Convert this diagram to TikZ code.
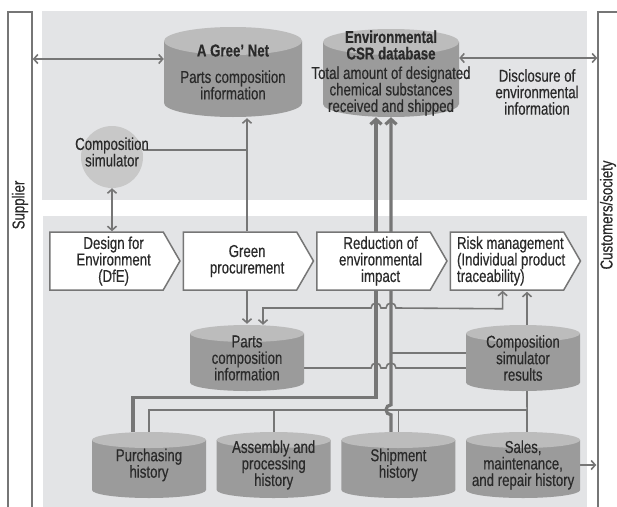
\documentclass[tikz,border=0pt]{standalone}
\usepackage{fontspec}
\setmainfont{Liberation Sans}[FakeStretch=0.77, FakeBold=0.4]
\usepackage{tikz}
\usetikzlibrary{positioning,shapes.symbols,arrows.meta,backgrounds,calc}

\definecolor{panel}{RGB}{227,228,230}
\definecolor{edge}{RGB}{118,118,118}
\definecolor{dbbody}{RGB}{155,155,155}
\definecolor{dbtop}{RGB}{188,188,188}
\definecolor{simfill}{RGB}{200,200,200}
\definecolor{ink}{RGB}{42,42,42}

\tikzset{
  tip/.tip = {Straight Barb[length=4pt,width=9pt]},
  % a database drawn as a cylinder inside a plain rectangle node
  db/.style = {rectangle, minimum width=114pt, minimum height=66pt, inner sep=0pt, align=center,
    path picture={
      \fill[dbbody] let \p1 = (path picture bounding box.north west), \p2 = (path picture bounding box.south east) in
        (\x1,\y1-#1) -- (\x1,\y2+#1) arc[start angle=180, end angle=360, x radius={(\x2-\x1)/2}, y radius=#1] -- (\x2,\y1-#1) -- cycle;
      \fill[dbtop] let \p1 = (path picture bounding box.north west), \p2 = (path picture bounding box.south east) in
        ({(\x1+\x2)/2},\y1-#1) ellipse[x radius={(\x2-\x1)/2}, y radius=#1];
    }},
  db/.default = 8pt,
}

\begin{document}
\begin{tikzpicture}[x=1pt, y=-1pt, font=\fontsize{17.2}{16.5}\selectfont, text=ink,
    flow/.style = {shape=signal, signal to=east, signal pointer angle=120, draw=edge, line width=1.5pt, fill=white, minimum width=130pt, minimum height=58pt, inner sep=0pt},
    flowtext/.style = {align=center, xshift=7pt},
    bigdb/.style = {db=14pt, minimum width=138pt, minimum height=90pt},
    bar/.style = {draw=edge, line width=1.5pt, fill=white, minimum width=24pt, minimum height=508pt},
    line/.style = {draw=edge, line width=1.6pt},
    heavy/.style = {draw=edge, line width=3.2pt},
    arr/.style = {line, -tip, shorten >=1pt},
    dbl/.style = {line, tip-tip},
]
    \clip (0,0) rectangle (617,506);
    \begin{scope}[on background layer]
        \fill[panel] (42,11) rectangle (587,200);
        \fill[panel] (43,216) rectangle (587,520);
    \end{scope}

    \node[bar] (supplier) at (20,266) {};
    \node[rotate=90] (supplierlbl) at (20,205) {Supplier};
    \node[bar, minimum width=32pt] (customers) at (614,266) {};
    \node[rotate=90] (customerslbl) at (608,215) {Customers/society};

    \node[bigdb] (agree) at (233,72) {\textbf{A Gree’ Net}\\[10pt]Parts composition\\information};
    \node[bigdb, db=13pt, minimum width=136pt, minimum height=88pt] (csr) at (391,73) {\textbf{Environmental}\\\textbf{CSR database}\\[3pt]\makebox[130pt]{Total amount of designated}\\chemical substances\\received and shipped};
    \node[align=center] (disclose) at (537,92) {Disclosure of\\environmental\\information};
    \node[circle, fill=simfill, minimum size=62pt, inner sep=0pt, label={[align=center, yshift=5pt]center:Composition\\simulator}] (sim) at (112,157) {};

    \node[flow, label={[flowtext]center:Design for\\Environment\\(DfE)}] (dfe) at (106.6,261) {};
    \node[flow, right of=dfe, node distance=133.5pt, label={[flowtext]center:Green\\procurement}] (green) {};
    \node[flow, right of=green, node distance=133.5pt, label={[flowtext]center:Reduction of\\environmental\\impact}] (reduce) {};
    \node[flow, right of=reduce, node distance=133.5pt, label={[align=left, xshift=4pt]center:Risk management\\(Individual product\\traceability)}] (risk) {};

    \node[db=8.5pt] (parts) at (247,358) {Parts\\composition\\information};
    \node[db=8.5pt] (simres) at (523,358) {Composition\\simulator\\results};

    \node[db] (purchase) at (149,465) {Purchasing\\history};
    \node[db, right of=purchase, node distance=124.7pt] (assembly) {Assembly and\\processing\\history};
    \node[db, right of=assembly, node distance=124.7pt] (shipment) {Shipment\\history};
    \node[db, right of=shipment, node distance=124.7pt] (sales) {Sales,\\maintenance,\\and repair history};

    \begin{scope}[on background layer]
        % top half
        \draw[dbl] ([yshift=13pt]agree.west) -- ([yshift=13pt]agree.west -| supplier.east);
        \draw[dbl] ([yshift=15pt]csr.east) -- ([yshift=15pt]csr.east -| customers.west);
        \draw[line] ([yshift=7pt]sim.east) -- ([yshift=7pt]sim.east -| parts.north);
        \draw[arr] (parts.north |- green.north) -- (parts.north |- agree.south);
        \draw[dbl] (sim.south) -- (sim.south |- dfe.north);
        % heavy lines up to the CSR database
        \draw[heavy, -{Straight Barb[length=5pt,width=11pt]}] ([xshift=-16pt]purchase.north) -- ++(0,-34) -| ([xshift=-15pt]csr.south);
        \draw[heavy, -{Straight Barb[length=5pt,width=11pt]}] (csr.south |- shipment.north) -- ++(0,-17) arc[start angle=270, end angle=90, radius=5pt] -- (csr.south);
        % lower half
        \draw[arr] (parts.north |- green.south) -- (parts.north);
        \draw[dbl] ([xshift=-4.5pt]risk.south) -- ++(0,18) -- (396,308) arc[start angle=0, end angle=180, radius=5pt] -- (381,308) arc[start angle=0, end angle=180, radius=5pt] -| ([xshift=16pt]parts.north);
        \draw[arr] ([xshift=4pt]simres.north) -- ([xshift=4pt]simres.north |- risk.south);
        \draw[line] ([yshift=5pt]simres.west) -- ([yshift=5pt]simres.west -| csr.south);
        \draw[line] ([yshift=-10pt]parts.east) -- (371,368) arc[start angle=180, end angle=0, radius=5pt] -- (386,368) arc[start angle=180, end angle=0, radius=5pt] -- ([yshift=-10pt]simres.west);
        \draw[line] ([xshift=4pt]simres.south) -- ([xshift=4pt]sales.north);
        \draw[line] (purchase.north) -- ++(0,-22) -| ([xshift=4pt]sales.north);
        \draw[line] (assembly.north) -- ++(0,-22);
        \draw[line] (shipment.north) -- ++(0,-22);
        \draw[arr] (sales.east) -- (sales.east -| customers.west);
    \end{scope}
\end{tikzpicture}
\end{document}
